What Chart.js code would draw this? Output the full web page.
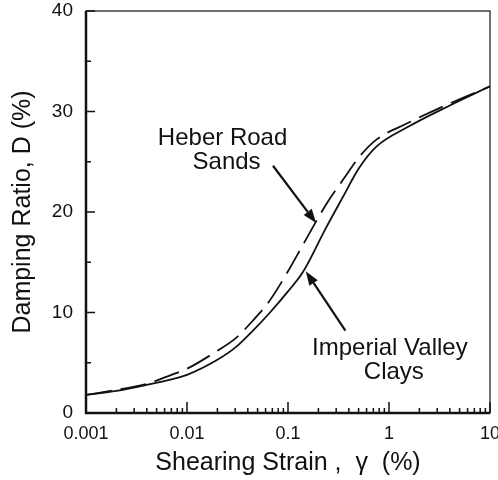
<!DOCTYPE html>
<html>
<head>
<meta charset="utf-8">
<script src="https://cdn.jsdelivr.net/npm/chart.js@4.4.0/dist/chart.umd.min.js"></script>
<style>
  html, body { margin: 0; padding: 0; background: #fff; }
</style>
</head>
<body>
<canvas id="dampingChart" width="498" height="480"></canvas>
<script>
// shearing strain (%) at which the curves were read
const strain = [0.001, 0.002, 0.004, 0.007, 0.01, 0.02, 0.03, 0.045, 0.065, 0.1, 0.14, 0.24, 0.35, 0.5, 0.75, 1.5, 4, 10];
// damping ratio D (%)
const claysDamping = [1.8, 2.2, 2.8, 3.35, 3.8, 5.3, 6.5, 8.2, 9.9, 12.1, 14.0, 18.5, 21.5, 24.3, 26.5, 28.4, 30.6, 32.5];
const sandsDamping = [1.8, 2.3, 2.9, 3.8, 4.4, 6.2, 7.4, 9.2, 11.1, 14.1, 16.7, 20.8, 23.2, 25.4, 27.2, 28.8, 30.8, 32.5];

const xTicks = [0.001, 0.01, 0.1, 1, 10];
const yTicks = [0, 10, 20, 30, 40];
const yMinorTicks = [5, 15, 25, 35];

const INK = '#111';
const FONT = '"Liberation Sans", Arial, sans-serif';

function toPoints(ys) {
    return strain.map((x, i) => ({ x: x, y: ys[i] }));
}

// frame + inward tick marks
const framePlugin = {
    id: 'frame',
    afterDraw(chart) {
        const { ctx, chartArea: a, scales } = chart;
        const xs = scales.x, ys = scales.y;
        ctx.save();
        ctx.strokeStyle = INK;
        ctx.lineWidth = 1.2;
        ctx.strokeRect(a.left, a.top, a.right - a.left, a.bottom - a.top);
        // heavier left and bottom axes
        ctx.lineWidth = 2.5;
        ctx.beginPath();
        ctx.moveTo(a.left, a.top);
        ctx.lineTo(a.left, a.bottom);
        ctx.lineTo(a.right, a.bottom);
        ctx.stroke();

        ctx.lineWidth = 1.5;
        ctx.beginPath();
        xTicks.forEach((d, i) => {
            const px = xs.getPixelForValue(d);
            ctx.moveTo(px, a.bottom);
            ctx.lineTo(px, a.bottom - 11);
            if (i < xTicks.length - 1) {
                for (let k = 2; k < 10; k++) {
                    const mx = xs.getPixelForValue(d * k);
                    ctx.moveTo(mx, a.bottom);
                    ctx.lineTo(mx, a.bottom - 5);
                }
            }
        });
        yTicks.forEach(v => {
            const py = ys.getPixelForValue(v);
            ctx.moveTo(a.left, py);
            ctx.lineTo(a.left + 9, py);
        });
        yMinorTicks.forEach(v => {
            const py = ys.getPixelForValue(v);
            ctx.moveTo(a.left, py);
            ctx.lineTo(a.left + 5, py);
        });
        ctx.stroke();
        ctx.restore();
    }
};

// curve labels with arrows, placed in data coordinates
const labels = [
    { lines: ['Heber Road', 'Sands'], x: 0.0225, y: 26.1, tail: [0.071, 24.6], head: [0.19, 18.9] },
    { lines: ['Imperial Valley', 'Clays'], x: 1.02, y: 5.2, tail: [0.37, 8.2], head: [0.15, 14.1] }
];

const labelPlugin = {
    id: 'curveLabels',
    afterDatasetsDraw(chart) {
        const { ctx, scales } = chart;
        const xs = scales.x, ys = scales.y;
        ctx.save();
        ctx.fillStyle = INK;
        ctx.strokeStyle = INK;
        ctx.font = '24px ' + FONT;
        ctx.textAlign = 'center';
        ctx.textBaseline = 'middle';
        labels.forEach(l => {
            const cx = xs.getPixelForValue(l.x);
            const cy = ys.getPixelForValue(l.y);
            ctx.fillText(l.lines[0], cx, cy - 12);
            ctx.fillText(l.lines[1], cx + 4, cy + 12);

            const tx = xs.getPixelForValue(l.tail[0]), ty = ys.getPixelForValue(l.tail[1]);
            const hx = xs.getPixelForValue(l.head[0]), hy = ys.getPixelForValue(l.head[1]);
            const ang = Math.atan2(hy - ty, hx - tx);
            const len = 14, wid = 5;
            const bx = hx - len * Math.cos(ang), by = hy - len * Math.sin(ang);
            ctx.lineWidth = 2.2;
            ctx.beginPath();
            ctx.moveTo(tx, ty);
            ctx.lineTo(bx, by);
            ctx.stroke();
            ctx.beginPath();
            ctx.moveTo(hx, hy);
            ctx.lineTo(bx + wid * Math.sin(ang), by - wid * Math.cos(ang));
            ctx.lineTo(bx - wid * Math.sin(ang), by + wid * Math.cos(ang));
            ctx.closePath();
            ctx.fill();
        });
        ctx.restore();
    }
};

const ctx = document.getElementById('dampingChart').getContext('2d');

new Chart(ctx, {
    type: 'scatter',
    data: {
        datasets: [
            {
                label: 'Imperial Valley Clays',
                data: toPoints(claysDamping),
                showLine: true,
                borderColor: INK,
                borderWidth: 1.8,
                pointRadius: 0,
                cubicInterpolationMode: 'monotone'
            },
            {
                label: 'Heber Road Sands',
                data: toPoints(sandsDamping),
                showLine: true,
                borderColor: INK,
                borderWidth: 1.8,
                borderDash: [26, 9],
                pointRadius: 0,
                cubicInterpolationMode: 'monotone'
            }
        ]
    },
    options: {
        responsive: false,
        animation: false,
        layout: { padding: { top: 11, right: 8, left: 0, bottom: 0 } },
        plugins: {
            legend: { display: false },
            tooltip: { enabled: false }
        },
        scales: {
            x: {
                type: 'logarithmic',
                min: 0.001,
                max: 10,
                grid: { display: false, drawTicks: false },
                border: { display: false },
                afterBuildTicks: s => { s.ticks = xTicks.map(v => ({ value: v })); },
                afterFit: s => {
                    s.height = 67;
                    s.paddingLeft = 0;
                    s.paddingRight = 0;
                },
                ticks: {
                    padding: 10,
                    color: INK,
                    font: { family: FONT, size: 18 },
                    callback: v => String(v)
                },
                title: {
                    display: true,
                    text: 'Shearing Strain ,  \u03b3  (%)',
                    color: INK,
                    font: { family: FONT, size: 25 },
                    padding: { top: 4, bottom: 2 }
                }
            },
            y: {
                min: 0,
                max: 40,
                grid: { display: false, drawTicks: false },
                border: { display: false },
                afterBuildTicks: s => { s.ticks = yTicks.map(v => ({ value: v })); },
                afterFit: s => {
                    s.width = 86;
                    s.paddingTop = 0;
                    s.paddingBottom = 0;
                },
                ticks: {
                    padding: 13,
                    color: INK,
                    font: { family: FONT, size: 19 }
                },
                title: {
                    display: true,
                    text: 'Damping Ratio, D (%)',
                    color: INK,
                    font: { family: FONT, size: 25 },
                    padding: { top: 8, bottom: 0 }
                }
            }
        }
    },
    plugins: [framePlugin, labelPlugin]
});
</script>
</body>
</html>
